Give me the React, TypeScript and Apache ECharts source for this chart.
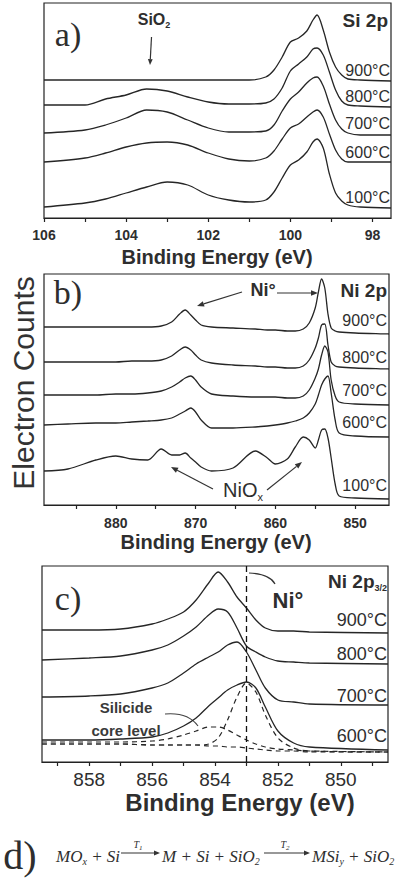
import React, { useEffect, useRef } from "react";
import * as echarts from "echarts";

// ---------- Panel a: Si 2p ----------
const siEnergy = [106, 105, 104.5, 104, 103.5, 103, 102.5, 102, 101.5, 101, 100.6, 100.4, 100.2, 100, 99.8, 99.6, 99.45, 99.35, 99.2, 99.05, 98.9, 98.75, 98.6, 98.3, 97.55];
const si900 = [138, 138, 138, 138, 138, 138, 138, 138, 138, 138, 141, 148, 161, 176, 180, 187, 198, 203, 188, 166, 151, 143, 139, 138, 137];
const si800 = [113, 113, 119, 123, 129, 127, 121, 116, 114, 114, 115, 119, 130, 147, 154, 161, 169, 170, 163, 146, 128, 117, 113, 112, 111];
const si700 = [85, 88, 93, 100, 108, 106, 98, 90, 86, 86, 87, 93, 107, 119, 126, 135, 140, 141, 132, 114, 98, 89, 85, 83, 83];
const si600 = [56, 60, 65, 71, 75, 76, 73, 65, 59, 57, 60, 67, 79, 90, 94, 101, 106, 108, 101, 84, 68, 59, 56, 56, 56];
const si100 = [11, 15, 19, 25, 31, 36, 33, 23, 18, 16, 18, 26, 40, 53, 58, 66, 76, 79, 70, 44, 25, 17, 13, 11, 10];
const siLabels = [98, 100, 102, 104, 106];
const siTicks = [98, 99, 100, 101, 102, 103, 104, 105, 106];

// ---------- Panel b: Ni 2p ----------
const niEnergy = [889, 886, 882.5, 880, 878, 876, 874.3, 873, 872, 871.3, 870.6, 870, 869.3, 868, 865.3, 862.5, 861, 860, 858.5, 857.5, 856.5, 855.75, 855, 854.6, 854.2, 853.8, 853.4, 853, 852.5, 852, 850, 845.75];
const ni900 = [178, 178, 178, 178, 178, 178, 179, 183, 191, 195, 190, 185, 180, 178, 177, 176, 175, 175, 174, 174, 176, 182, 197, 213, 226, 217, 191, 177, 174, 173, 172, 171];
const ni800 = [143, 143, 143, 143, 144, 144, 145, 149, 155, 158, 155, 150, 145, 142, 140, 139, 138, 138, 137, 137, 139, 145, 157, 167, 180, 181, 160, 143, 139, 138, 137, 136];
const ni700 = [110, 110, 110, 111, 111, 112, 114, 118, 123, 127, 129, 125, 118, 111, 109, 108, 108, 108, 107, 107, 109, 115, 127, 136, 150, 159, 153, 125, 109, 103, 101, 100];
const ni600 = [80, 81, 82, 82, 83, 84, 85, 87, 91, 94, 97, 93, 85, 77, 77, 78, 79, 80, 82, 84, 87, 92, 101, 110, 120, 126, 129, 112, 85, 72, 69, 68];
const ni100 = [34, 36, 45, 49, 46, 45, 56, 50, 50, 52, 47, 43, 38, 34, 37, 54, 47, 41, 46, 58, 68, 65, 57, 65, 75, 76, 67, 47, 21, 9, 7, 6];
const niLabels = [850, 860, 870, 880];
const niTicks = [850, 855, 860, 865, 870, 875, 880, 885];

// ---------- Panel c: Ni 2p3/2 ----------
const n32Energy = [859.5, 858, 857, 856, 855.5, 855, 854.6, 854.2, 853.9, 853.6, 853.3, 853, 852.7, 852.4, 852, 851.5, 851, 848.5];
const n32_900 = [132, 132, 133, 138, 143, 150, 162, 179, 190, 180, 165, 154, 142, 134, 131, 131, 130, 129];
const n32_800 = [102, 104, 106, 112, 117, 126, 135, 147, 153, 150, 134, 116, 110, 105, 101, 100, 99, 98];
const n32_700 = [65, 66, 68, 74, 79, 89, 98, 105, 110, 117, 120, 110, 92, 74, 62, 60, 58, 57];
const n32_600 = [22, 22, 23, 25, 29, 36, 44, 56, 64, 72, 77, 80, 74, 55, 31, 19, 15, 12];
const n32_bg = [18, 18, 18, 17, 17, 17, 17, 16, 16, 15, 15, 14, 13, 12, 11, 11, 10, 10];
const n32_silicide = [20, 20, 20, 21, 23, 27, 31, 35, 35, 32, 27, 22, 18, 15, 13, 12, 11, 10];
const n32_metal = [18, 18, 18, 17, 17, 17, 17, 18, 24, 42, 65, 79, 70, 47, 24, 14, 11, 10];
const n32Labels = [850, 852, 854, 856, 858];
const n32Ticks = [849, 850, 851, 852, 853, 854, 855, 856, 857, 858, 859];
const niMetalLine = 853;

const tempLabels = ["900°C", "800°C", "700°C", "600°C", "100°C"];

const SANS = '"Liberation Sans", Arial, Helvetica, sans-serif';
const SERIF = '"Liberation Serif", "Times New Roman", serif';
const INK = "#262626";
const TXT = "#2e2e2e";

function mkSeries(x: number[], y: number[], idx: number, dashed = false): any {
  return {
    type: "line",
    xAxisIndex: idx,
    yAxisIndex: idx,
    data: x.map((e, i) => [e, y[i]]),
    showSymbol: false,
    symbol: "none",
    smooth: 0.3,
    silent: true,
    lineStyle: { color: INK, width: dashed ? 1.2 : 1.3, type: dashed ? [5, 4] : "solid" },
  };
}

function mkX(grid: number, min: number, max: number, labels: number[], ticks: number[], fontSize: number, bold: boolean, margin: number): any {
  return {
    type: "value",
    gridIndex: grid,
    min,
    max,
    inverse: true,
    axisLine: { show: true, onZero: false, lineStyle: { color: "#222", width: 1.2 } },
    axisTick: { show: true, inside: false, length: 4, customValues: ticks, lineStyle: { color: "#222", width: 1.2 } },
    axisLabel: {
      customValues: labels,
      fontSize,
      fontWeight: bold ? "bold" : "normal",
      color: TXT,
      fontFamily: SANS,
      margin,
    },
    splitLine: { show: false },
  };
}

function mkY(grid: number, max: number): any {
  return { type: "value", gridIndex: grid, min: 0, max, show: false, splitLine: { show: false } };
}

function txt(x: number, y: number, text: string, size: number, opts: any = {}): any {
  return {
    type: "text",
    x,
    y,
    silent: true,
    rotation: opts.rotation || 0,
    style: {
      text,
      fontSize: size,
      fontFamily: opts.family || SANS,
      fontWeight: opts.weight || "normal",
      fontStyle: opts.italic ? "italic" : "normal",
      fill: opts.color || TXT,
      align: opts.align || "left",
      verticalAlign: opts.valign || "middle",
    },
  };
}

function arrow(x1: number, y1: number, x2: number, y2: number, head = 6): any[] {
  const a = Math.atan2(y2 - y1, x2 - x1);
  const w = head * 0.4;
  const bx = x2 - head * Math.cos(a);
  const by = y2 - head * Math.sin(a);
  return [
    { type: "line", silent: true, shape: { x1, y1, x2: bx, y2: by }, style: { stroke: "#333", lineWidth: 1.2 } },
    {
      type: "polygon",
      silent: true,
      shape: {
        points: [
          [x2, y2],
          [bx + w * Math.sin(a), by - w * Math.cos(a)],
          [bx - w * Math.sin(a), by + w * Math.cos(a)],
        ],
      },
      style: { fill: "#333" },
    },
  ];
}

function richSub(x: number, y: number, parts: [string, boolean][], size: number, subSize: number, opts: any = {}): any {
  const str = parts.map(([t, s]) => (s ? `{s|${t}}` : `{b|${t}}`)).join("");
  const base = {
    fontSize: size,
    fontFamily: opts.family || SANS,
    fontWeight: opts.weight || "normal",
    fontStyle: opts.italic ? "italic" : "normal",
    fill: opts.color || TXT,
    lineHeight: size + 2,
    verticalAlign: "top",
  };
  return {
    type: "text",
    x,
    y,
    silent: true,
    style: {
      text: str,
      align: opts.align || "left",
      verticalAlign: "middle",
      rich: {
        b: base,
        s: { ...base, fontSize: subSize, lineHeight: size + 2, verticalAlign: "bottom" },
      },
    },
  };
}

export default function App() {
  const ref = useRef<HTMLDivElement>(null);
  useEffect(() => {
    document.body.style.margin = "0";
    const chart = echarts.init(ref.current!, undefined, { renderer: "svg" });

    const graphics: any[] = [
      // panel letters
      txt(68, 34, "a)", 34, { family: SERIF, align: "center" }),
      txt(68, 292, "b)", 34, { family: SERIF, align: "center" }),
      txt(68, 598, "c)", 34, { family: SERIF, align: "center" }),
      txt(20, 855, "d)", 40, { family: SERIF, align: "center" }),
      // y-axis name
      txt(23, 383, "Electron Counts", 30, { align: "center", rotation: Math.PI / 2, color: "#333" }),
      // axis titles
      txt(217, 257, "Binding Energy (eV)", 20, { weight: "bold", align: "center" }),
      txt(216, 542, "Binding Energy (eV)", 20, { weight: "bold", align: "center" }),
      txt(240, 802, "Binding Energy (eV)", 24, { weight: "bold", align: "center" }),
      // panel a texts
      txt(388, 20, "Si 2p", 19, { weight: "bold", align: "right" }),
      richSub(154, 20, [["SiO", false], ["2", true]], 16, 9, { weight: "bold", align: "center" }),
      ...arrow(151.5, 37, 150, 65, 6),
      txt(390, 70, tempLabels[0], 16, { align: "right" }),
      txt(390, 96, tempLabels[1], 16, { align: "right" }),
      txt(390, 123, tempLabels[2], 16, { align: "right" }),
      txt(390, 152, tempLabels[3], 16, { align: "right" }),
      txt(390, 197, tempLabels[4], 16, { align: "right" }),
      // panel b texts
      txt(387, 290, "Ni 2p", 19, { weight: "bold", align: "right" }),
      txt(263, 290, "Ni°", 18, { weight: "bold", align: "center" }),
      ...arrow(277, 293, 318, 293, 7),
      ...arrow(242, 292, 197, 306, 7),
      richSub(243, 491, [["NiO", false], ["x", true]], 20, 11, { align: "center" }),
      ...arrow(213, 489, 171, 467, 7),
      ...arrow(267, 490, 302, 462, 7),
      txt(387, 320, tempLabels[0], 16, { align: "right" }),
      txt(387, 357, tempLabels[1], 16, { align: "right" }),
      txt(387, 390, tempLabels[2], 16, { align: "right" }),
      txt(387, 422, tempLabels[3], 16, { align: "right" }),
      txt(387, 485, tempLabels[4], 16, { align: "right" }),
      // panel c texts
      richSub(387, 582, [["Ni 2p", false], ["3/2", true]], 19, 9, { weight: "bold", align: "right" }),
      txt(288, 600, "Ni°", 22, { weight: "bold", align: "center" }),
      {
        type: "bezierCurve",
        silent: true,
        shape: { x1: 275, y1: 584, x2: 249, y2: 573, cpx1: 270, cpy1: 574 },
        style: { stroke: "#333", lineWidth: 1.2, fill: "none" },
      },
      txt(387, 620, tempLabels[0], 18, { align: "right" }),
      txt(387, 654, tempLabels[1], 18, { align: "right" }),
      txt(387, 696, tempLabels[2], 18, { align: "right" }),
      txt(387, 736, tempLabels[3], 18, { align: "right" }),
      txt(126, 707, "Silicide", 15, { weight: "bold", align: "center", color: "#3a3a3a" }),
      txt(126, 730, "core level", 15, { weight: "bold", align: "center", color: "#3a3a3a" }),
      {
        type: "bezierCurve",
        silent: true,
        shape: { x1: 165, y1: 714, x2: 198, y2: 726, cpx1: 188, cpy1: 712 },
        style: { stroke: "#444", lineWidth: 1.1, fill: "none" },
      },
      // panel d equation
      richSub(56, 857, [["MO", false], ["x", true], [" + Si", false]], 17, 10, { family: SERIF, italic: true }),
      ...arrow(121, 853, 160, 853, 6),
      richSub(138, 845, [["T", false], ["1", true]], 10, 7, { family: SERIF, italic: true, align: "center" }),
      richSub(162, 857, [["M + Si + SiO", false], ["2", true]], 17, 10, { family: SERIF, italic: true }),
      ...arrow(264, 853, 310, 853, 6),
      richSub(285, 845, [["T", false], ["2", true]], 10, 7, { family: SERIF, italic: true, align: "center" }),
      richSub(312, 857, [["MSi", false], ["y", true], [" + SiO", false], ["2", true]], 17, 10, { family: SERIF, italic: true }),
    ];

    const option: any = {
      animation: false,
      backgroundColor: "#ffffff",
      grid: [
        { left: 44, top: 3, width: 347, height: 215, show: true, borderColor: "#222", borderWidth: 1.2 },
        { left: 44, top: 274, width: 345, height: 231, show: true, borderColor: "#222", borderWidth: 1.2 },
        { left: 42, top: 566, width: 346, height: 196, show: true, borderColor: "#222", borderWidth: 1.2 },
      ],
      xAxis: [
        mkX(0, 97.55, 106, siLabels, siTicks, 14, true, 10),
        mkX(1, 845.75, 889, niLabels, niTicks, 14, true, 11),
        mkX(2, 848.5, 859.5, n32Labels, n32Ticks, 19, false, 8),
      ],
      yAxis: [mkY(0, 215), mkY(1, 231), mkY(2, 196)],
      series: [
        mkSeries(siEnergy, si900, 0),
        mkSeries(siEnergy, si800, 0),
        mkSeries(siEnergy, si700, 0),
        mkSeries(siEnergy, si600, 0),
        mkSeries(siEnergy, si100, 0),
        mkSeries(niEnergy, ni900, 1),
        mkSeries(niEnergy, ni800, 1),
        mkSeries(niEnergy, ni700, 1),
        mkSeries(niEnergy, ni600, 1),
        mkSeries(niEnergy, ni100, 1),
        mkSeries(n32Energy, n32_900, 2),
        mkSeries(n32Energy, n32_800, 2),
        mkSeries(n32Energy, n32_700, 2),
        mkSeries(n32Energy, n32_600, 2),
        {
          ...mkSeries(n32Energy, n32_bg, 2, true),
          markLine: {
            silent: true,
            symbol: "none",
            label: { show: false },
            lineStyle: { color: "#111", width: 1.3, type: [6, 4] },
            data: [{ xAxis: niMetalLine }],
          },
        },
        mkSeries(n32Energy, n32_silicide, 2, true),
        mkSeries(n32Energy, n32_metal, 2, true),
      ],
      graphic: graphics,
    };
    chart.setOption(option);
    return () => chart.dispose();
  }, []);
  return <div ref={ref} style={{ position: "absolute", left: 0, top: 0, width: 409, height: 880 }} />;
}
